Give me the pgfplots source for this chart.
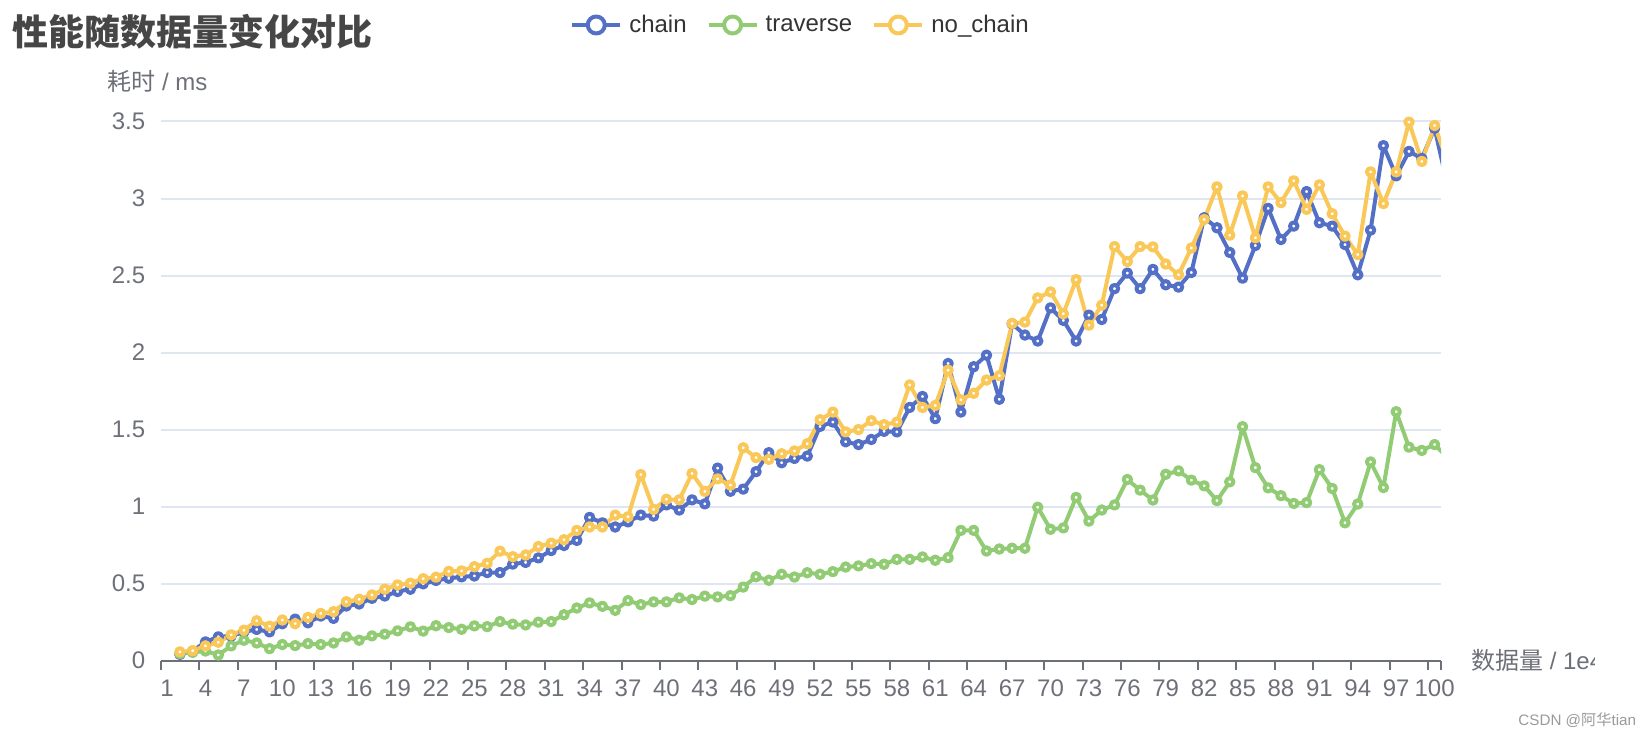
\documentclass[border=0pt]{standalone}
\usepackage{pgfplots}
\pgfplotsset{compat=1.18}
\usepackage{pgfplotstable}
\usepackage{fontspec}
\setmainfont{Liberation Sans}
\newfontfamily\cjk{Noto Sans CJK SC}
\definecolor{cblue}{HTML}{5470C6}
\definecolor{cgreen}{HTML}{91CC75}
\definecolor{cyellow}{HTML}{FAC858}
\definecolor{axgray}{HTML}{6E7079}
\definecolor{gridc}{HTML}{E0E6F1}
\definecolor{titlec}{HTML}{464646}
\definecolor{legc}{HTML}{333333}
\definecolor{wmc}{HTML}{9A9A9A}

\pgfplotstableread{
x y
2 0.041
3 0.063
4 0.122
5 0.155
6 0.160
7 0.187
8 0.203
9 0.187
10 0.240
11 0.270
12 0.246
13 0.290
14 0.275
15 0.355
16 0.368
17 0.405
18 0.420
19 0.449
20 0.464
21 0.499
22 0.521
23 0.535
24 0.544
25 0.550
26 0.572
27 0.572
28 0.627
29 0.638
30 0.667
31 0.715
32 0.748
33 0.781
34 0.930
35 0.895
36 0.868
37 0.901
38 0.945
39 0.939
40 1.011
41 0.978
42 1.044
43 1.018
44 1.250
45 1.100
46 1.114
47 1.227
48 1.350
49 1.285
50 1.313
51 1.328
52 1.521
53 1.549
54 1.421
55 1.403
56 1.436
57 1.489
58 1.485
59 1.644
60 1.715
61 1.571
62 1.929
63 1.614
64 1.908
65 1.983
66 1.697
67 2.187
68 2.114
69 2.075
70 2.290
71 2.209
72 2.075
73 2.243
74 2.215
75 2.415
76 2.516
77 2.415
78 2.540
79 2.440
80 2.425
81 2.520
82 2.875
83 2.810
84 2.650
85 2.483
86 2.695
87 2.936
88 2.734
89 2.821
90 3.045
91 2.843
92 2.821
93 2.701
94 2.505
95 2.795
96 3.343
97 3.147
98 3.306
99 3.260
100 3.456
101 3.090
}\chaindata

\pgfplotstableread{
x y
2 0.046
3 0.054
4 0.063
5 0.037
6 0.096
7 0.133
8 0.115
9 0.078
10 0.105
11 0.098
12 0.111
13 0.105
14 0.115
15 0.155
16 0.133
17 0.161
18 0.172
19 0.194
20 0.220
21 0.192
22 0.227
23 0.215
24 0.204
25 0.226
26 0.221
27 0.254
28 0.237
29 0.232
30 0.250
31 0.254
32 0.298
33 0.342
34 0.375
35 0.353
36 0.327
37 0.390
38 0.364
39 0.382
40 0.382
41 0.408
42 0.397
43 0.419
44 0.414
45 0.422
46 0.478
47 0.545
48 0.522
49 0.561
50 0.543
51 0.571
52 0.561
53 0.578
54 0.608
55 0.615
56 0.630
57 0.626
58 0.658
59 0.658
60 0.673
61 0.652
62 0.669
63 0.846
64 0.846
65 0.712
66 0.725
67 0.730
68 0.730
69 0.996
70 0.853
71 0.862
72 1.060
73 0.906
74 0.978
75 1.011
76 1.176
77 1.107
78 1.043
79 1.210
80 1.232
81 1.172
82 1.135
83 1.039
84 1.161
85 1.519
86 1.253
87 1.122
88 1.071
89 1.021
90 1.026
91 1.240
92 1.118
93 0.895
94 1.017
95 1.290
96 1.124
97 1.616
98 1.386
99 1.365
100 1.403
101 1.320
}\traversedata

\pgfplotstableread{
x y
2 0.057
3 0.065
4 0.096
5 0.120
6 0.168
7 0.198
8 0.259
9 0.224
10 0.264
11 0.240
12 0.281
13 0.307
14 0.318
15 0.383
16 0.399
17 0.427
18 0.464
19 0.492
20 0.503
21 0.532
22 0.542
23 0.580
24 0.583
25 0.610
26 0.632
27 0.711
28 0.675
29 0.686
30 0.741
31 0.763
32 0.785
33 0.846
34 0.868
35 0.868
36 0.945
37 0.934
38 1.208
39 0.982
40 1.048
41 1.044
42 1.215
43 1.099
44 1.180
45 1.140
46 1.382
47 1.318
48 1.307
49 1.343
50 1.361
51 1.408
52 1.564
53 1.614
54 1.485
55 1.500
56 1.558
57 1.532
58 1.549
59 1.790
60 1.644
61 1.657
62 1.886
63 1.693
64 1.736
65 1.822
66 1.850
67 2.189
68 2.198
69 2.355
70 2.394
71 2.252
72 2.473
73 2.178
74 2.308
75 2.688
76 2.591
77 2.688
78 2.686
79 2.575
80 2.505
81 2.679
82 2.864
83 3.076
84 2.762
85 3.017
86 2.745
87 3.076
88 2.973
89 3.115
90 2.930
91 3.089
92 2.901
93 2.756
94 2.636
95 3.173
96 2.967
97 3.173
98 3.496
99 3.241
100 3.474
101 3.242
}\nochaindata

\begin{document}
\begin{tikzpicture}[x=1pt,y=1pt]
\useasboundingbox (0,0) rectangle (825,369);
\begin{axis}[
  at={(80.35pt,38.65pt)}, anchor=south west,
  scale only axis, width=640.15pt, height=269.6pt,
  xmin=0.5, xmax=100.5, ymin=0, ymax=3.5,
  axis x line*=bottom, axis y line*=left,
  axis line style={-},
  y axis line style={draw=none},
  x axis line style={draw=axgray, line width=1pt},
  xtick={1,4,...,100},
  minor xtick={0.5,3.5,...,99.5,100.5},
  ytick={0,0.5,1,1.5,2,2.5,3,3.5},
  major tick length=0pt, minor tick length=4.5pt, tick align=outside,
  minor x tick style={draw=axgray, line width=1pt},
  ymajorgrids, grid style={draw=gridc, line width=1pt},
  /pgf/number format/assume math mode=true,
  ticklabel style={font=\fontsize{12pt}{14pt}\selectfont, text=axgray},
  xticklabel style={anchor=base, yshift=-17.9pt},
  yticklabel style={anchor=east, xshift=-4.25pt},
  legend style={at={(0.5005,1.179)}, anchor=center, draw=none, fill=none,
    legend columns=3, font=\fontsize{12pt}{14pt}\selectfont, text=legc,
    /tikz/every odd column/.append style={column sep=1.5pt},
    /tikz/every even column/.append style={column sep=8pt}, inner sep=0pt},
  legend cell align=left,
  legend image code/.code={\draw[#1,line width=2pt] (0pt,0pt) -- (24pt,0pt);
    \draw[#1,line width=2pt,fill=white] (12pt,0pt) circle (4.25pt);},
  every axis plot/.append style={line width=2pt, line join=round,
    mark=*, mark size=1.85pt, mark indices={1,...,99}},
]
\addplot[draw=cblue, mark options={draw=cblue, fill=white, line width=2pt}] table[x=x,y=y] {\chaindata};
\addlegendentry{chain}
\addplot[draw=cgreen, mark options={draw=cgreen, fill=white, line width=2pt}] table[x=x,y=y] {\traversedata};
\addlegendentry{traverse}
\addplot[draw=cyellow, mark options={draw=cyellow, fill=white, line width=2pt}] table[x=x,y=y] {\nochaindata};
\addlegendentry{no\_chain}
\end{axis}
\node[anchor=west, inner sep=0, text=titlec, font=\cjk\bfseries\fontsize{18pt}{20pt}\selectfont] at (6,353.15) {性能随数据量变化对比};
\node[anchor=west, inner sep=0, text=axgray, font=\fontsize{12pt}{14pt}\selectfont] at (53.5,328.15) {{\cjk 耗时} / ms};
\begin{scope}
\clip (0,0) rectangle (797,369);
\node[anchor=west, inner sep=0, text=axgray, font=\fontsize{12pt}{14pt}\selectfont] at (735.35,39) {{\cjk 数据量} / 1e4};
\end{scope}
\node[anchor=west, inner sep=0, text=wmc, font=\fontsize{7.6pt}{9pt}\selectfont] at (759,9) {CSDN @{\cjk 阿华}tian};
\end{tikzpicture}
\end{document}
